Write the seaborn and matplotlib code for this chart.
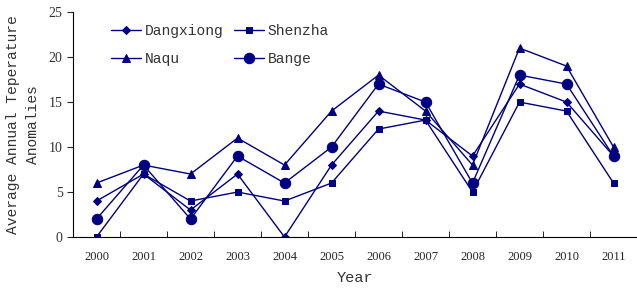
import pandas as pd
import matplotlib.pyplot as plt
import seaborn as sns

years = ["2000", "2001", "2002", "2003", "2004", "2005",
         "2006", "2007", "2008", "2009", "2010", "2011"]
dangxiong = [4, 7, 3, 7, 0, 8, 14, 13, 9, 17, 15, 9]
shenzha = [0, 7, 4, 5, 4, 6, 12, 13, 5, 15, 14, 6]
naqu = [6, 8, 7, 11, 8, 14, 18, 14, 8, 21, 19, 10]
bange = [2, 8, 2, 9, 6, 10, 17, 15, 6, 18, 17, 9]
stations = ["Dangxiong", "Shenzha", "Naqu", "Bange"]

rows = []
for name, vals in zip(stations, [dangxiong, shenzha, naqu, bange]):
    for i, v in enumerate(vals):
        rows.append({"pos": i, "value": v, "station": name})
df = pd.DataFrame(rows)

sns.set_style("ticks")
plt.rcParams["font.family"] = ["Liberation Mono", "DejaVu Sans"]

fig = plt.figure(figsize=(6.37, 2.88), dpi=100)
ax = fig.add_axes([0.1146, 0.177, 0.8854, 0.781])

navy = "#000080"
markers = {"Dangxiong": "D", "Shenzha": "s", "Naqu": "^", "Bange": "o"}
sizes = {"Dangxiong": 4, "Shenzha": 5, "Naqu": 6, "Bange": 7.5}
for name in stations:
    sns.lineplot(data=df[df.station == name], x="pos", y="value", ax=ax,
                 color=navy, marker=markers[name], markersize=sizes[name],
                 markeredgecolor=navy, linewidth=1, label=name)

ax.set_xlim(-0.5, 11.5)
ax.set_ylim(0, 25)
ax.set_yticks([0, 5, 10, 15, 20, 25])
ax.set_xticks(range(len(years)))
ax.set_xticklabels(years, fontsize=9, family="Liberation Serif")
ax.set_xticks([i + 0.5 for i in range(len(years) - 1)], minor=True)
ax.tick_params(axis="x", which="major", length=0, pad=10)
ax.tick_params(axis="x", which="minor", direction="in", length=4, color="black")
ax.tick_params(axis="y", direction="out", length=4, labelsize=10, labelcolor="#333333")
for lab in ax.get_yticklabels():
    lab.set_family("Liberation Serif")
ax.spines["top"].set_visible(False)
ax.spines["right"].set_visible(False)
ax.spines["left"].set_color("black")
ax.spines["bottom"].set_color("black")

ax.set_xlabel("Year", fontsize=11, color="#333333", labelpad=6)
ax.set_ylabel("Average Annual Teperature\nAnomalies", fontsize=10.5,
              color="#333333", linespacing=1.6, labelpad=6)

h, l = ax.get_legend_handles_labels()
order = [0, 2, 1, 3]
ax.legend([h[i] for i in order], [l[i] for i in order],
          loc="upper left", bbox_to_anchor=(0.044, 1.007), ncol=2, frameon=False,
          fontsize=10.5, handlelength=2.05, columnspacing=0.75, labelspacing=1.0,
          handletextpad=0.25, labelcolor="#333333")

fig.savefig("out.png", dpi=100)
